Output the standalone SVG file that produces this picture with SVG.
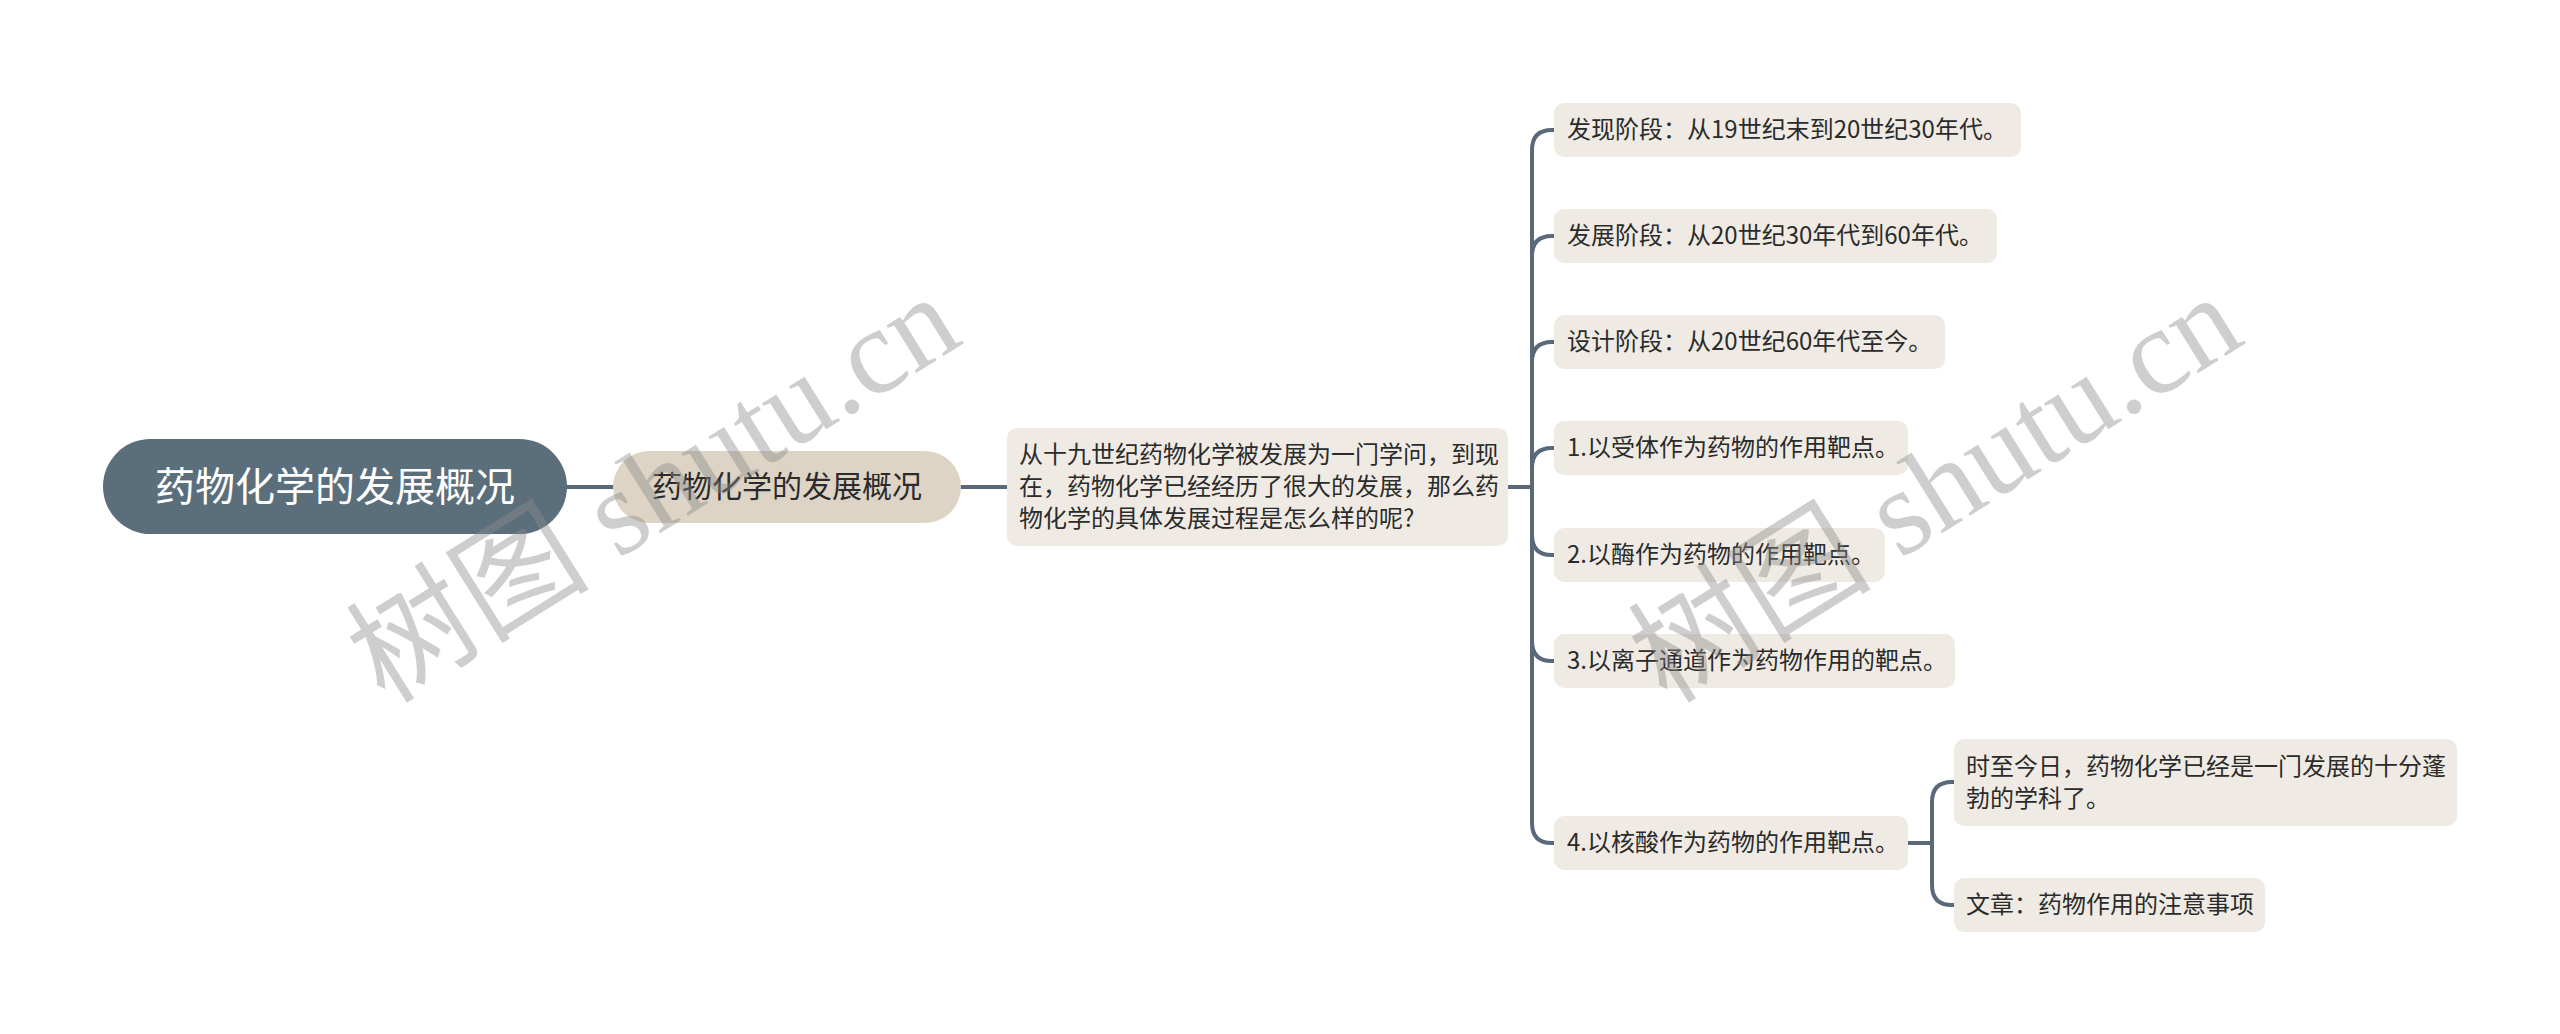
<svg xmlns="http://www.w3.org/2000/svg" width="2560" height="1034" viewBox="0 0 2560 1034">
<style>
.t{font-family:"Noto Sans CJK SC","Liberation Sans",sans-serif;fill:#2b2b2b}
.leaf{fill:#efebe4}
.c{fill:none;stroke:#59697a;stroke-width:4;stroke-linecap:round}
.wm{font-family:"Liberation Serif","Noto Sans CJK SC",serif;font-size:122px;fill:#8c8c8c;opacity:0.42}
</style>
<rect width="2560" height="1034" fill="#ffffff"/>
<g id="connectors">
<path class="c" d="M567 487H613"/>
<path class="c" d="M961 487H1007"/>
<path class="c" d="M1508 487H1532V150Q1532 130 1552 130H1554"/>
<path class="c" d="M1532 487V256Q1532 236 1552 236H1554"/>
<path class="c" d="M1532 487V362Q1532 342 1552 342H1554"/>
<path class="c" d="M1532 487V468Q1532 448 1552 448H1554"/>
<path class="c" d="M1532 487V535Q1532 555 1552 555H1554"/>
<path class="c" d="M1532 487V641Q1532 661 1552 661H1554"/>
<path class="c" d="M1532 487V823Q1532 843 1552 843H1554"/>
<path class="c" d="M1908 843H1932V802Q1932 782 1952 782H1954"/>
<path class="c" d="M1932 843V885Q1932 905 1952 905H1954"/>
</g>
<g id="root">
<rect x="103" y="439" width="464" height="95" rx="47.5" fill="#5b6e7b"/>
<text class="t" x="335" y="501" font-size="40" text-anchor="middle" style="fill:#ffffff">药物化学的发展概况</text>
</g>
<g id="n1">
<rect x="613" y="451" width="348" height="72" rx="36" fill="#ddd4c5"/>
<text class="t" x="787" y="497" font-size="30" text-anchor="middle">药物化学的发展概况</text>
</g>
<g id="n2">
<rect class="leaf" x="1007" y="428" width="501" height="118" rx="10"/>
<text class="t" font-size="24"><tspan x="1019" y="463">从十九世纪药物化学被发展为一门学问，到现</tspan><tspan x="1019" y="495">在，药物化学已经经历了很大的发展，那么药</tspan><tspan x="1019" y="527">物化学的具体发展过程是怎么样的呢?</tspan></text>
</g>
<g id="l1">
<rect class="leaf" x="1554" y="103" width="467" height="54" rx="10"/>
<text class="t" x="1567" y="138" font-size="24">发现阶段：从19世纪末到20世纪30年代。</text>
</g>
<g id="l2">
<rect class="leaf" x="1554" y="209" width="443" height="54" rx="10"/>
<text class="t" x="1567" y="244" font-size="24">发展阶段：从20世纪30年代到60年代。</text>
</g>
<g id="l3">
<rect class="leaf" x="1554" y="315" width="391" height="54" rx="10"/>
<text class="t" x="1567" y="350" font-size="24">设计阶段：从20世纪60年代至今。</text>
</g>
<g id="l4">
<rect class="leaf" x="1554" y="421" width="354" height="54" rx="10"/>
<text class="t" x="1567" y="456" font-size="24">1.以受体作为药物的作用靶点。</text>
</g>
<g id="l5">
<rect class="leaf" x="1554" y="528" width="331" height="54" rx="10"/>
<text class="t" x="1567" y="563" font-size="24">2.以酶作为药物的作用靶点。</text>
</g>
<g id="l6">
<rect class="leaf" x="1554" y="634" width="401" height="54" rx="10"/>
<text class="t" x="1567" y="669" font-size="24">3.以离子通道作为药物作用的靶点。</text>
</g>
<g id="l7">
<rect class="leaf" x="1554" y="816" width="354" height="54" rx="10"/>
<text class="t" x="1567" y="851" font-size="24">4.以核酸作为药物的作用靶点。</text>
</g>
<g id="c1">
<rect class="leaf" x="1954" y="739" width="503" height="87" rx="10"/>
<text class="t" font-size="24"><tspan x="1966" y="775">时至今日，药物化学已经是一门发展的十分蓬</tspan><tspan x="1966" y="807">勃的学科了。</tspan></text>
</g>
<g id="c2">
<rect class="leaf" x="1954" y="878" width="311" height="54" rx="10"/>
<text class="t" x="1966" y="913" font-size="24">文章：药物作用的注意事项</text>
</g>
<g id="watermarks">
<text class="wm" transform="translate(385 705) rotate(-32)">树图 shutu.cn</text>
<text class="wm" transform="translate(1667 705) rotate(-32)">树图 shutu.cn</text>
</g>
</svg>
